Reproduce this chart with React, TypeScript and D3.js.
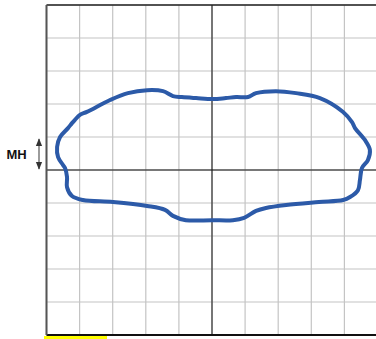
import React from 'react';
import * as d3 from 'd3';

// grid ticks in chart units (10 x 10 cells, origin at centre)
const gridTicks = [-5, -4, -3, -2, -1, 0, 1, 2, 3, 4, 5];

// outline of the shape, clockwise from the left-most point [x, y]
const outlineX = [
  -4.68, -4.59, -4.35, -4.23, -4.14, -3.99, -3.78, -3.08, -2.54, -1.96, -1.48, -1.18,
  -0.91, -0.48, 0.03, 0.42, 0.73, 1.09, 1.33, 1.93, 2.54, 3.26, 3.96, 4.23, 4.32,
  4.62, 4.77, 4.71, 4.53, 4.47, 4.41, 4.17, 3.96, 3.23, 2.24, 1.63, 1.33, 0.97, 0.63,
  0, -0.79, -1.18, -1.42, -1.96, -2.99, -3.9, -4.23, -4.38, -4.38, -4.44, -4.5, -4.65,
];
const outlineY = [
  0.7, 1.0, 1.27, 1.42, 1.52, 1.67, 1.76, 2.12, 2.33, 2.42, 2.39, 2.24,
  2.21, 2.18, 2.15, 2.18, 2.21, 2.21, 2.33, 2.39, 2.33, 2.18, 1.76, 1.45, 1.27,
  0.91, 0.61, 0.3, 0.06, -0.3, -0.61, -0.82, -0.91, -0.97, -1.06, -1.15, -1.24, -1.45, -1.52,
  -1.52, -1.52, -1.39, -1.21, -1.09, -0.97, -0.91, -0.79, -0.52, -0.21, 0.06, 0.15, 0.39,
];

// the MH marker spans this range on the y axis
const mhRange = [0, 0.97];

export default function App() {
  const width = 376;
  const height = 339;

  const x = d3.scaleLinear().domain([-5, 5]).range([46.5, 377.5]);
  const y = d3.scaleLinear().domain([-5, 5]).range([335, 5]);

  const points: [number, number][] = outlineX.map((v, i) => [v, outlineY[i]]);
  const outline = d3
    .line<[number, number]>()
    .x(d => x(d[0]))
    .y(d => y(d[1]))
    .curve(d3.curveCatmullRomClosed.alpha(0.5))(points);

  const arrowX = 39;
  const yTop = y(mhRange[1]);
  const yBot = y(mhRange[0]);

  return (
    <svg
      width={width}
      height={height}
      style={{ position: 'fixed', left: 0, top: 0, background: '#fff' }}
    >
      <defs>
        <marker id="ah" viewBox="0 0 10 10" refX="9" refY="5" markerWidth="6" markerHeight="6" orient="auto-start-reverse">
          <path d="M0,1 L10,5 L0,9 Z" fill="#333" />
        </marker>
      </defs>

      {/* grid */}
      {gridTicks.map(t => (
        <line key={'v' + t} x1={x(t)} x2={x(t)} y1={y(5)} y2={y(-5)} stroke="#c4c4c4" strokeWidth={1.2} />
      ))}
      {gridTicks.map(t => (
        <line key={'h' + t} x1={x(-5)} x2={x(5)} y1={y(t)} y2={y(t)} stroke="#c4c4c4" strokeWidth={1.2} />
      ))}

      {/* axes through the origin */}
      <line x1={x(0)} x2={x(0)} y1={y(5)} y2={y(-5)} stroke="#111" strokeWidth={1} />
      <line x1={x(-5)} x2={x(5)} y1={y(0)} y2={y(0)} stroke="#111" strokeWidth={1.2} />

      {/* frame */}
      <line x1={x(-5)} x2={x(5)} y1={y(5)} y2={y(5)} stroke="#222" strokeWidth={1.5} />
      <line x1={x(-5)} x2={x(5)} y1={y(-5)} y2={y(-5)} stroke="#111" strokeWidth={2} />
      <line x1={x(-5)} x2={x(-5)} y1={y(5)} y2={y(-5)} stroke="#555" strokeWidth={2} />

      {/* shape */}
      <path d={outline ?? ''} fill="none" stroke="#2c5aa8" strokeWidth={4} strokeLinejoin="round" />

      {/* MH marker */}
      <line
        x1={arrowX}
        x2={arrowX}
        y1={yTop + 1}
        y2={yBot - 1}
        stroke="#666"
        strokeWidth={1.3}
        markerStart="url(#ah)"
        markerEnd="url(#ah)"
      />
      <text
        x={16.5}
        y={(yTop + yBot) / 2}
        dy="0.35em"
        textAnchor="middle"
        fontFamily="'Liberation Sans', Arial, sans-serif"
        fontWeight="bold"
        fontSize={13}
        fill="#111"
      >
        MH
      </text>

      {/* yellow strip under the frame */}
      <rect x={44} y={336} width={63} height={4} fill="#ffff00" />
    </svg>
  );
}
